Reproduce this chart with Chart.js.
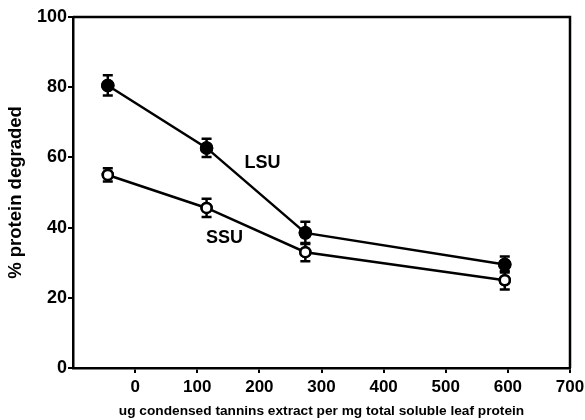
<!DOCTYPE html>
<html>
<head>
<meta charset="utf-8">
<script src="https://cdn.jsdelivr.net/npm/chart.js@4"></script>
<style>
  body { margin: 0; background: #fff; }
  #wrap { width: 585px; height: 420px; }
</style>
</head>
<body>
<div id="wrap"><canvas id="degradeChart" width="585" height="420"></canvas></div>
<script>
// data
const tanninDose = [-44, 115, 274, 595];
const lsuValues = [80.5, 62.7, 38.5, 29.5];
const lsuErrors = [2.9, 2.6, 3.2, 2.3];
const ssuValues = [55, 45.6, 33, 25];
const ssuErrors = [1.9, 2.6, 2.6, 2.6];
const xTicks = [0, 100, 200, 300, 400, 500, 600, 700];
const yTicks = [0, 20, 40, 60, 80, 100];
const seriesLabels = [
    { text: 'LSU', x: 205, y: 58.3 },
    { text: 'SSU', x: 144, y: 37 }
];

const FONT = '"Liberation Sans", Arial, sans-serif';

// error bars + box + series labels
const extras = {
    id: 'extras',
    afterDatasetsDraw(chart) {
        const ctx = chart.ctx;
        const xs = chart.scales.x, ys = chart.scales.y;
        ctx.save();
        ctx.strokeStyle = '#000';
        ctx.lineWidth = 2.5;
        [[lsuValues, lsuErrors], [ssuValues, ssuErrors]].forEach(function (pair) {
            pair[0].forEach(function (v, i) {
                const px = xs.getPixelForValue(tanninDose[i]);
                const top = ys.getPixelForValue(v + pair[1][i]);
                const bot = ys.getPixelForValue(v - pair[1][i]);
                ctx.beginPath();
                ctx.moveTo(px, top); ctx.lineTo(px, bot);
                ctx.moveTo(px - 5, top); ctx.lineTo(px + 5, top);
                ctx.moveTo(px - 5, bot); ctx.lineTo(px + 5, bot);
                ctx.stroke();
            });
        });
        // redraw points on top of bars
        chart.getSortedVisibleDatasetMetas().forEach(function (meta) {
            meta.data.forEach(function (el) { el.draw(ctx); });
        });
        const a = chart.chartArea;
        ctx.lineWidth = 2.5;
        ctx.beginPath();
        ctx.moveTo(a.left, a.top); ctx.lineTo(a.right, a.top); ctx.lineTo(a.right, a.bottom);
        ctx.stroke();
        ctx.fillStyle = '#000';
        ctx.font = 'bold 18px ' + FONT;
        ctx.textAlign = 'center';
        ctx.textBaseline = 'middle';
        seriesLabels.forEach(function (l) {
            ctx.fillText(l.text, xs.getPixelForValue(l.x), ys.getPixelForValue(l.y));
        });
        ctx.restore();
    }
};

const points = function (vals) {
    return vals.map(function (v, i) { return { x: tanninDose[i], y: v }; });
};

new Chart(document.getElementById('degradeChart'), {
    type: 'scatter',
    data: {
        datasets: [{
            label: 'LSU',
            data: points(lsuValues),
            showLine: true,
            borderColor: '#000',
            borderWidth: 2.5,
            pointRadius: 6,
            pointBackgroundColor: '#000',
            pointBorderColor: '#000',
            pointBorderWidth: 1.5
        }, {
            label: 'SSU',
            data: points(ssuValues),
            showLine: true,
            borderColor: '#000',
            borderWidth: 2.5,
            pointRadius: 5,
            pointBackgroundColor: '#fff',
            pointBorderColor: '#000',
            pointBorderWidth: 2.5
        }]
    },
    options: {
        responsive: false,
        animation: false,
        layout: { padding: { left: 0, right: 15, top: 17, bottom: 0 } },
        plugins: { legend: { display: false }, tooltip: { enabled: false } },
        scales: {
            x: {
                type: 'linear',
                min: -100, max: 700,
                afterBuildTicks: function (s) { s.ticks = xTicks.map(function (v) { return { value: v }; }); },
                afterFit: function (s) { s.height = 52; s.paddingLeft = 0; s.paddingRight = 0; },
                border: { color: '#000', width: 2.5 },
                grid: { drawOnChartArea: false, drawTicks: true, tickLength: 5, color: '#000', lineWidth: 2 },
                ticks: { color: '#000', padding: 4, maxRotation: 0, font: { family: FONT, size: 17, weight: 'bold' } },
                title: { display: true, text: 'ug condensed tannins extract per mg total soluble leaf protein',
                    color: '#000', padding: { top: 0, bottom: 1 }, font: { family: FONT, size: 13.7, weight: 'bold' } }
            },
            y: {
                min: 0, max: 100,
                afterBuildTicks: function (s) { s.ticks = yTicks.map(function (v) { return { value: v }; }); },
                afterFit: function (s) { s.width = 73; s.paddingTop = 0; s.paddingBottom = 0; },
                border: { color: '#000', width: 2.5 },
                grid: { drawOnChartArea: false, drawTicks: true, tickLength: 5, color: '#000', lineWidth: 2 },
                ticks: { color: '#000', padding: 1, font: { family: FONT, size: 18, weight: 'bold' } },
                title: { display: true, text: '% protein degraded', color: '#000',
                    padding: { top: 5, bottom: 0 }, font: { family: FONT, size: 18.5, weight: 'bold' } }
            }
        }
    },
    plugins: [extras]
});
</script>
</body>
</html>
